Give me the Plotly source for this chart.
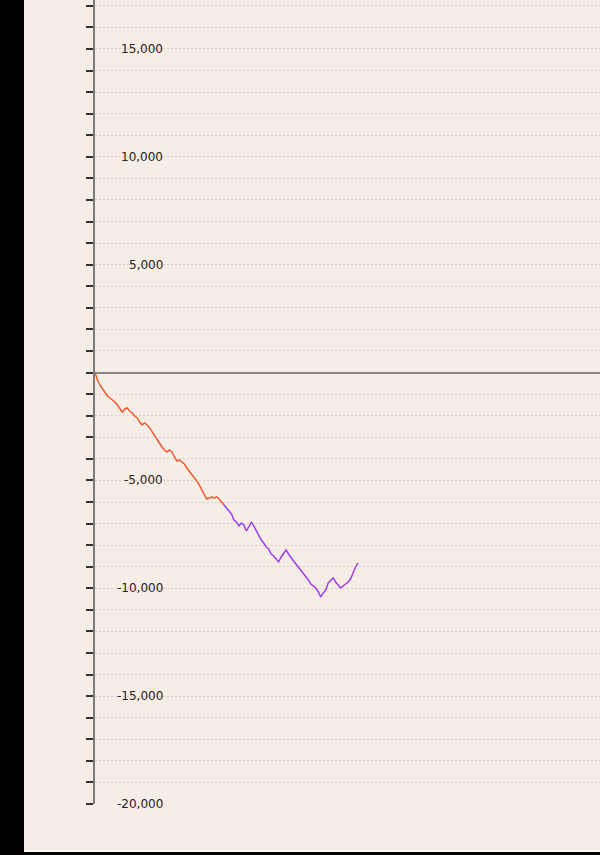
import plotly.graph_objects as go

# Equity curve values, one per trade
equity = [
    0, -343, -575, -760, -899, -1085, -1178, -1270, -1363, -1502,
    -1641, -1827, -1688, -1641, -1780, -1873, -2012, -2105, -2290, -2429,
    -2337, -2429, -2568, -2754, -2939, -3125, -3264, -3449, -3588, -3681,
    -3588, -3681, -3913, -4098, -4052, -4145, -4237, -4423, -4562, -4701,
    -4840, -5025, -5211, -5443, -5674, -5860, -5814, -5767, -5814, -5767,
    -5860, -5999, -6138, -6277, -6463, -6555, -6833, -6926, -7112, -6973,
    -7065, -7343, -7158, -6926, -7112, -7343, -7529, -7761, -7900, -8085,
    -8178, -8410, -8502, -8641, -8781, -8549, -8363, -8224, -8410, -8595,
    -8734, -8873, -9012, -9151, -9291, -9430, -9615, -9801, -9893, -9986,
    -10171, -10403, -10217, -10079, -9754, -9615, -9522, -9708, -9847, -9986,
    -9893, -9801, -9708, -9569, -9244, -9012, -8827,
]
split_index = 52  # first segment (orange) ends here, second (purple) begins

tick_values = [15000, 10000, 5000, -5000, -10000, -15000, -20000]
tick_labels = ["15,000", "10,000", "5,000", "-5,000", "-10,000", "-15,000", "-20,000"]

trades = list(range(len(equity)))

ORANGE = "#EE5A2E"
PURPLE = "#A23CF0"
BG = "#F5EDE6"

fig = go.Figure()
fig.add_trace(go.Scatter(
    x=trades[:split_index + 1], y=equity[:split_index + 1],
    mode="lines", line=dict(color=ORANGE, width=1.5), hoverinfo="skip",
))
fig.add_trace(go.Scatter(
    x=trades[split_index:], y=equity[split_index:],
    mode="lines", line=dict(color=PURPLE, width=1.5), hoverinfo="skip",
))

L, R, T, B = 95, 0, 0, 51
W, H = 600, 855
pw = W - L - R
ph = H - T - B

# tick labels drawn right-aligned inside the plot
for v, lab in zip(tick_values, tick_labels):
    fig.add_annotation(
        x=(165 - L) / pw, xref="paper", y=v, yref="y",
        text=lab, showarrow=False, xanchor="right", yanchor="middle",
        font=dict(family="DejaVu Sans", size=12, color="#222222"),
    )

def px_x(px):
    return (px - L) / pw

def px_y(py):
    return (H - B - py) / ph

shapes = [
    # black left strip
    dict(type="rect", xref="paper", yref="paper", x0=px_x(0), x1=px_x(24),
         y0=px_y(H), y1=px_y(0), fillcolor="black", line=dict(width=0), layer="above"),
    # white line and black bottom strip
    dict(type="rect", xref="paper", yref="paper", x0=px_x(24), x1=px_x(W),
         y0=px_y(852), y1=px_y(850.5), fillcolor="white", line=dict(width=0), layer="above"),
    dict(type="rect", xref="paper", yref="paper", x0=px_x(0), x1=px_x(W),
         y0=px_y(H), y1=px_y(852), fillcolor="black", line=dict(width=0), layer="above"),
]

fig.update_layout(
    width=W, height=H,
    margin=dict(l=L, r=R, t=T, b=B, pad=0),
    paper_bgcolor=BG, plot_bgcolor=BG,
    showlegend=False,
    shapes=shapes,
    xaxis=dict(range=[0, (len(equity) - 1) * pw / 263.0], visible=False, fixedrange=True),
    yaxis=dict(
        range=[-20000, 17271],
        dtick=1000, tick0=0,
        showticklabels=False,
        ticks="outside", ticklen=7, tickwidth=2, tickcolor="#333333",
        showline=True, linecolor="#7A7A7A", linewidth=1.5,
        showgrid=True, gridcolor="#D8D1CA", gridwidth=1, griddash="2px,2px",
        zeroline=True, zerolinecolor="#8A8580", zerolinewidth=1.5,
        fixedrange=True,
    ),
)

fig.write_html(
    "out.html",
    config={"displayModeBar": False},
    post_script="document.body.style.margin='0';document.body.style.overflow='hidden';",
)
